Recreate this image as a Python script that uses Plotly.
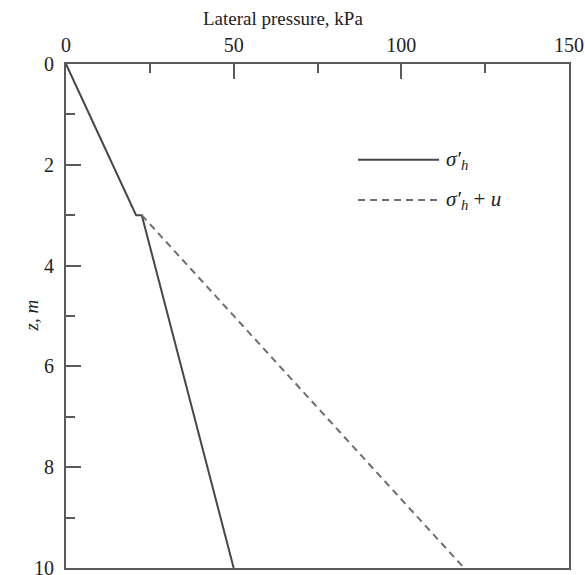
import plotly.graph_objects as go

# Lateral pressure profile with depth
depth_eff = [0, 3, 3, 10]            # z, m
sigma_h_eff = [0, 20.9, 22.6, 50.0]  # sigma'_h, kPa

depth_total = [3, 10]
sigma_h_total = [22.6, 118.7]        # sigma'_h + u, kPa

x_major = [0, 50, 100, 150]
x_minor = [25, 75, 125]
z_major = [0, 2, 4, 6, 8, 10]
z_minor = [1, 3, 5, 7, 9]

FONT = "Liberation Serif"
AXIS_COLOR = "#5a5a5a"
TEXT_COLOR = "#222"
PLOT_W = 585 - 66 - 16

fig = go.Figure()
fig.add_trace(go.Scatter(
    x=sigma_h_eff, y=depth_eff, mode="lines",
    line=dict(color="#474747", width=2), showlegend=False,
))
fig.add_trace(go.Scatter(
    x=sigma_h_total, y=depth_total, mode="lines",
    line=dict(color="#6e6e6e", width=2, dash="7px,5px"), showlegend=False,
))

axis_common = dict(
    showline=True, linecolor=AXIS_COLOR, linewidth=2, mirror=True,
    showgrid=False, zeroline=False, automargin=False,
    ticks="inside", ticklen=15, tickwidth=2, tickcolor=AXIS_COLOR,
    tickfont=dict(family=FONT, size=20, color=TEXT_COLOR),
    ticklabeloverflow="allow",
)

fig.update_layout(
    width=585, height=575,
    margin=dict(l=66, r=16, t=64, b=7),
    paper_bgcolor="white", plot_bgcolor="white",
    xaxis=dict(
        side="top", range=[0, 150], tickvals=x_major,
        ticklabelstandoff=2,
        minor=dict(tickvals=x_minor, ticks="inside", ticklen=9,
                   tickwidth=2, tickcolor=AXIS_COLOR),
        **axis_common,
    ),
    yaxis=dict(
        range=[10, 0], tickvals=z_major,
        ticklabelstandoff=6,
        minor=dict(tickvals=z_minor, ticks="inside", ticklen=9,
                   tickwidth=2, tickcolor=AXIS_COLOR),
        **axis_common,
    ),
)

# Axis titles
fig.add_annotation(
    text="Lateral pressure, kPa", xref="paper", yref="paper",
    x=0.431, y=1.0, yshift=58, showarrow=False,
    font=dict(family=FONT, size=19, color=TEXT_COLOR),
)
fig.add_annotation(
    text="<i>z, m</i>", xref="paper", yref="paper",
    x=(18 - 66) / PLOT_W, y=0.5, textangle=-90, showarrow=False,
    font=dict(family=FONT, size=19, color=TEXT_COLOR),
)

# Legend drawn with line samples and labels
for label, dash, color, zpos in [
    ("<i>σ′<sub>h</sub></i>", "solid", "#474747", 1.9),
    ("<i>σ′<sub>h</sub></i> + <i>u</i>", "7px,5px", "#6e6e6e", 2.7),
]:
    fig.add_shape(type="line", xref="paper", yref="y",
                  x0=(358 - 66) / PLOT_W, x1=(439 - 66) / PLOT_W, y0=zpos, y1=zpos,
                  line=dict(color=color, width=2, dash=dash))
    fig.add_annotation(text=label, xref="paper", yref="y",
                       x=(444 - 66) / PLOT_W, y=zpos, xanchor="left",
                       showarrow=False,
                       font=dict(family=FONT, size=21, color=TEXT_COLOR))

fig.write_html("out.html")
